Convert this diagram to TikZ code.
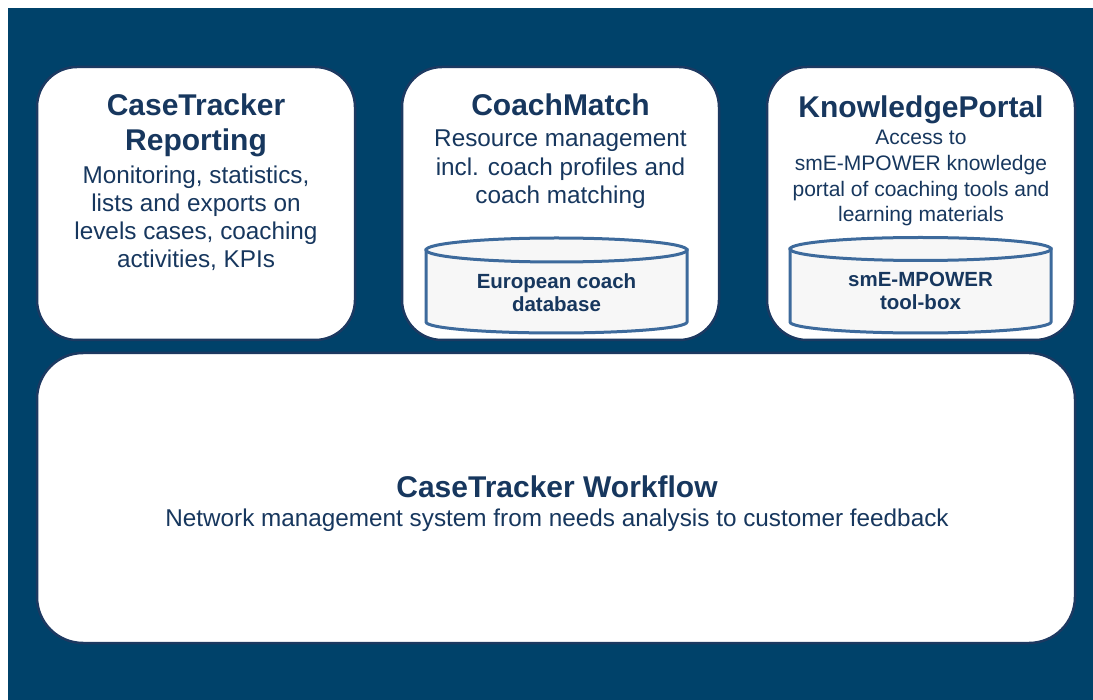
\documentclass[tikz,border=0pt]{standalone}
\usepackage{fontspec}
\setmainfont{Liberation Sans}
\definecolor{bgblue}{HTML}{00426A}
\definecolor{edgeblue}{HTML}{1C3961}
\definecolor{txtblue}{HTML}{17375E}
\definecolor{cylline}{HTML}{3D6A9C}
\definecolor{cylfill}{HTML}{F7F7F7}
\begin{document}
\begin{tikzpicture}[x=1pt,y=-1pt,
  panel/.style={fill=white,draw=edgeblue,line width=2.5pt},
  cyl/.style={fill=cylfill,draw=cylline,line width=3pt},
  ttl/.style={anchor=base,text=txtblue,inner sep=0pt,font=\fontsize{30}{36}\selectfont\bfseries},
  bdy/.style={anchor=base,text=txtblue,inner sep=0pt,font=\fontsize{24.3}{29}\selectfont},
  bdys/.style={anchor=base,text=txtblue,inner sep=0pt,font=\fontsize{21}{25}\selectfont},
  cyltxt/.style={anchor=base,text=txtblue,inner sep=0pt,font=\fontsize{20.5}{24}\selectfont\bfseries}]
\useasboundingbox (0,0) rectangle (1093,700);
\fill[white] (0,0) rectangle (1093,700);
\fill[bgblue] (8,8) rectangle (1093,700);
% panels
\draw[panel,rounded corners=40pt] (37,67) rectangle (355,340);
\draw[panel,rounded corners=40pt] (402,67) rectangle (719,340);
\draw[panel,rounded corners=40pt] (767,67) rectangle (1075,340);
\draw[panel,rounded corners=46pt] (37,353) rectangle (1075,643);
% box 1 text
\node[ttl] (r1) at (196,116) {CaseTracker};
\node[ttl] (r2) at (196,151) {Reporting};
\node[bdy] (r3) at (196,184) {Monitoring, statistics,};
\node[bdy] (r4) at (196,212) {lists and exports on};
\node[bdy] (r5) at (196,240) {levels cases, coaching};
\node[bdy] (r6) at (196,268) {activities, KPIs};
% box 2 text
\node[ttl] (c1) at (560.5,116) {CoachMatch};
\node[bdy] (c2) at (560.5,147) {Resource management};
\node[bdy] (c3) at (560.5,176) {incl. coach profiles and};
\node[bdy] (c4) at (560.5,204) {coach matching};
% box 3 text
\node[ttl] (k1) at (921,118) {KnowledgePortal};
\node[bdys] (k2) at (921,145) {Access to};
\node[bdys] (k3) at (921,171) {smE-MPOWER knowledge};
\node[bdys] (k4) at (921,197) {portal of coaching tools and};
\node[bdys] (k5) at (921,222) {learning materials};
% cylinder 1
\path[cyl] (426,250) -- (426,322) arc[start angle=180,end angle=0,x radius=130.5,y radius=11] -- (687,250) -- cycle;
\path[cyl] (556.5,250) ellipse[x radius=130.5,y radius=12];
\node[cyltxt] (d1) at (556.5,288.5) {European coach};
\node[cyltxt] (d2) at (556.5,311.5) {database};
% cylinder 2
\path[cyl] (790,249) -- (790,322) arc[start angle=180,end angle=0,x radius=130.5,y radius=11] -- (1051,249) -- cycle;
\path[cyl] (920.5,249) ellipse[x radius=130.5,y radius=11.5];
\node[cyltxt] (t1) at (920.5,286.5) {smE-MPOWER};
\node[cyltxt] (t2) at (920.5,309.5) {tool-box};
% bottom
\node[ttl] (w1) at (557,497) {CaseTracker Workflow};
\node[bdy] (w2) at (557,526) {Network management system from needs analysis to customer feedback};
\end{tikzpicture}
\end{document}
